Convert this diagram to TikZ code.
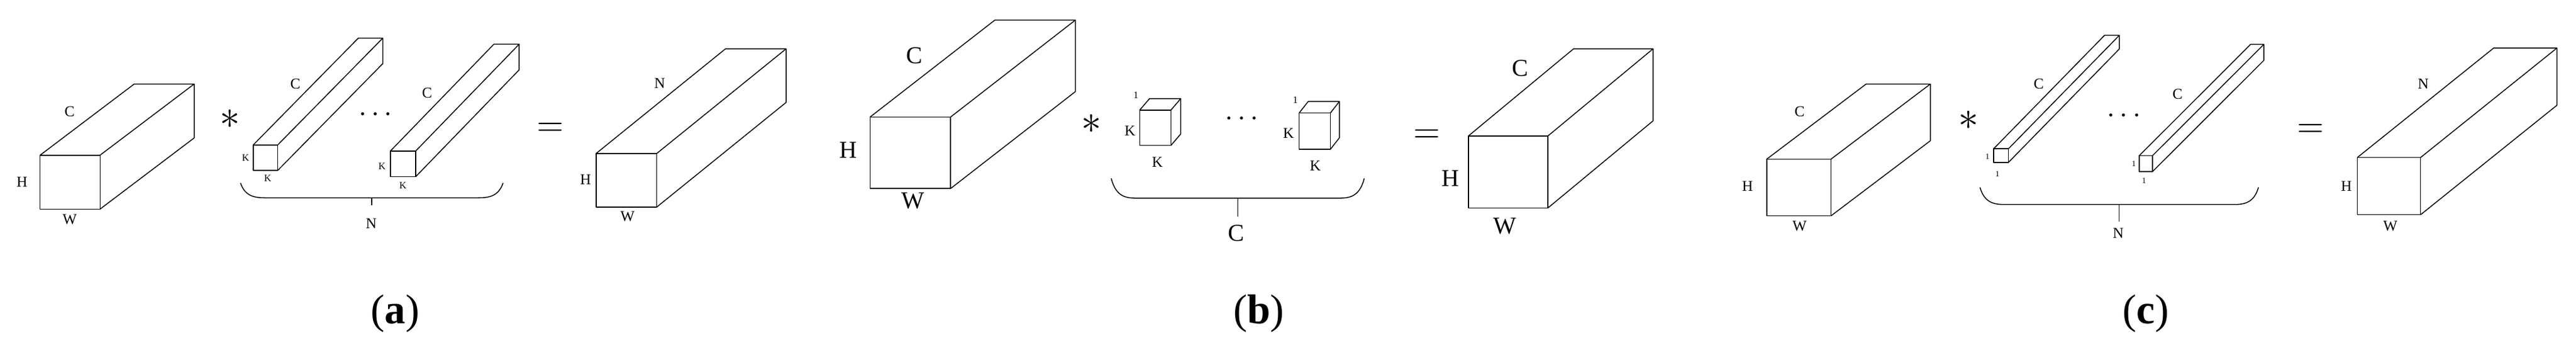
\documentclass[tikz,border=0pt]{standalone}
\usepackage{fontspec}
\setmainfont{Liberation Serif}
\tikzset{
  ln/.style={line width=1.6pt, line join=round},
  lab/.style={inner sep=0pt, font=\fontsize{26}{26}\selectfont},
  labB/.style={inner sep=0pt, font=\fontsize{42}{42}\selectfont},
  labS/.style={inner sep=0pt, font=\fontsize{17}{17}\selectfont},
  labT/.style={inner sep=0pt, font=\fontsize{14}{14}\selectfont},
  opast/.style={inner sep=0pt, scale=7},
  opeq/.style={inner sep=0pt, scale=6},
  opdots/.style={inner sep=0pt, scale=5},
  captionlab/.style={inner sep=0pt, font=\fontsize{72}{72}\selectfont},
}
% \cuboid{name}{x1}{y1}{x2}{y2}{dx}{dy}
\newcommand{\cuboid}[7]{%
  \coordinate (#1-fl) at (#2,#3);
  \coordinate (#1-fr) at (#4,#3);
  \coordinate (#1-br) at (#4,#5);
  \coordinate (#1-bl) at (#2,#5);
  \draw[ln] (#1-fl) rectangle (#1-br);
  \draw[ln] (#1-fl) -- ++(#6,#7) coordinate (#1-tl) -- ++({#4-#2},0) coordinate (#1-tr) -- (#1-fr);
  \draw[ln] (#1-tr) -- ++(0,{#5-#3}) -- (#1-br);
}
% \bracepath{name}{left}{top}{right}{bottom}{tickend}
\newcommand{\bracepath}[6]{%
  \coordinate (#1-m) at ({(#2+#4)/2},#5);
  \draw[ln] (#2,#3) .. controls (#2+3,#5) and (#2+10,#5) .. (#2+16,#5) -- (#4-16,#5) .. controls (#4-10,#5) and (#4-3,#5) .. (#4,#3);
  \draw[ln] (#1-m) -- ++(0,{#6-#5});
}
\begin{document}
\begin{tikzpicture}[x=1mm,y=-1mm]
\useasboundingbox (0,0) rectangle (1568,217);
% ---------- (a)
\cuboid{a1}{24.4}{94.4}{60.9}{127.2}{57.3}{-43.3}
\node[lab] (a1C) at (42.4,67.7) {C};
\node[lab] (a1H) at (13.4,110.6) {H};
\node[lab] (a1W) at (42.4,133.4) {W};
\node[opast] (aast) at (140,72.6) {$\ast$};
\cuboid{a2}{154.1}{88.2}{169}{103.7}{64}{-65}
\node[lab] (a2C) at (179.8,51.1) {C};
\node[labS] (a2K) at (149.5,96) {K};
\node[labS] (a2Kb) at (163,108.5) {K};
\node[opdots] (adots) at (228.6,69.8) {$\cdots$};
\cuboid{a3}{237.6}{91.9}{253}{107.5}{63}{-65}
\node[lab] (a3C) at (260,56.7) {C};
\node[labS] (a3K) at (232.5,101) {K};
\node[labS] (a3Kb) at (245.3,112.7) {K};
\bracepath{ab}{146.4}{111.3}{306.2}{120.3}{125}
\node[lab] (aN) at (226,136) {N};
\node[opeq] (aeq) at (335,78.8) {$=$};
\cuboid{a4}{362.8}{93.4}{399.7}{126}{78.8}{-63.7}
\node[lab] (a4N) at (401.6,50.6) {N};
\node[lab] (a4H) at (356.4,109.2) {H};
\node[lab] (a4W) at (382,131.8) {W};
\node[captionlab] (capa) at (240.5,190.8) {(\textbf{a})};
% ---------- (b)
\cuboid{b1}{529.6}{71.2}{578.6}{114.7}{76}{-59}
\node[labB] (b1C) at (556.4,33.9) {C};
\node[labB] (b1H) at (516.5,91.2) {H};
\node[labB] (b1W) at (555.8,122.3) {W};
\node[opast] (bast) at (664.3,75.3) {$\ast$};
\cuboid{b2}{693.7}{67}{712.7}{88.5}{6}{-7}
\node[labS] (b2one) at (691.4,58) {1};
\node[lab] (b2K) at (687.8,79.5) {K};
\node[lab] (b2Kb) at (704.5,98.8) {K};
\node[opdots] (bdots) at (755.8,72.6) {$\cdots$};
\cuboid{b3}{790.8}{68.7}{809.8}{90.8}{5.5}{-7}
\node[labS] (b3one) at (788.5,60.8) {1};
\node[lab] (b3K) at (784.3,80.9) {K};
\node[lab] (b3Kb) at (800.6,100.9) {K};
\bracepath{bb}{676.4}{108.5}{830.4}{120.5}{131.7}
\node[labB] (bC) at (752.6,141.7) {C};
\node[opeq] (beq) at (868.6,82.9) {$=$};
\cuboid{b4}{893.8}{82.7}{942.2}{126.5}{64}{-53}
\node[labB] (b4C) at (925.2,41.5) {C};
\node[labB] (b4H) at (882.7,108.5) {H};
\node[labB] (b4W) at (916,137.5) {W};
\node[captionlab] (capb) at (766.3,190.8) {(\textbf{b})};
% ---------- (c)
\cuboid{c1}{1075.4}{96.8}{1114.5}{131.3}{60.5}{-45.7}
\node[lab] (c1C) at (1095.4,67.7) {C};
\node[lab] (c1H) at (1063.7,113.4) {H};
\node[lab] (c1W) at (1095.4,137.5) {W};
\node[opast] (cast) at (1198.1,73.3) {$\ast$};
\cuboid{c2}{1213.5}{90.5}{1222.5}{98.8}{67.5}{-69}
\node[lab] (c2C) at (1241,51.1) {C};
\node[labT] (c2a) at (1209.8,95.4) {1};
\node[labT] (c2b) at (1215.8,105.8) {1};
\node[opdots] (cdots) at (1292.8,70.5) {$\cdots$};
\cuboid{c3}{1302.1}{94.7}{1310.2}{104.4}{67.8}{-67.7}
\node[lab] (c3C) at (1325.5,57.4) {C};
\node[labT] (c3a) at (1298.8,99.5) {1};
\node[labT] (c3b) at (1305.1,110) {1};
\bracepath{cb}{1205.2}{114}{1374.7}{124.4}{134.8}
\node[lab] (cN) at (1289.4,141.7) {N};
\node[opeq] (ceq) at (1406.5,79.5) {$=$};
\cuboid{c4}{1434.9}{95.8}{1473.4}{130.6}{83}{-66.6}
\node[lab] (c4N) at (1475,51.1) {N};
\node[lab] (c4H) at (1428.2,113.4) {H};
\node[lab] (c4W) at (1455,137.5) {W};
\node[captionlab] (capc) at (1306.2,190.8) {(\textbf{c})};
\end{tikzpicture}
\end{document}
